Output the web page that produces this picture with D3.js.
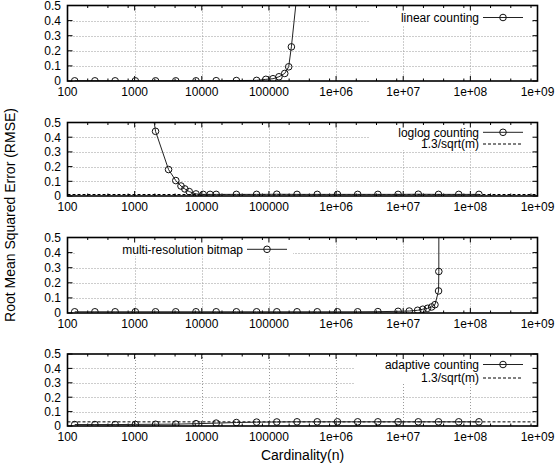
<!DOCTYPE html>
<html><head><meta charset="utf-8">
<script src="https://cdn.jsdelivr.net/npm/d3@7"></script>
<style>body{margin:0;background:#fff} svg{display:block} text{font-family:"Liberation Sans",Arial,Helvetica,sans-serif}</style>
</head><body><svg id="c" width="556" height="470"></svg>
<script>
// ---- data ----
const xTickValues = [100, 1e3, 1e4, 1e5, 1e6, 1e7, 1e8, 1e9];
const xTickLabels = ["100", "1000", "10000", "100000", "1e+06", "1e+07", "1e+08", "1e+09"];
const xMinorFactors = [2, 4, 8];
const yTickValues = [0, 0.1, 0.2, 0.3, 0.4, 0.5];
const yTickLabels = ["0", "0.1", "0.2", "0.3", "0.4", "0.5"];

const linearX = [128, 256, 512, 1024, 2048, 4096, 8192, 16384, 32768, 65536, 90000, 115000, 141000, 172000, 197000, 216000, 262144];
const linearY = [0.001, 0.001, 0.001, 0.001, 0.001, 0.001, 0.001, 0.002, 0.003, 0.004, 0.011, 0.015, 0.028, 0.05, 0.094, 0.226, 0.58];

const loglogX = [1024, 2048, 3200, 4100, 4900, 5600, 6500, 8200, 10500, 13300, 16384, 32768, 65536, 131072, 262144, 524288, 1048576, 2097152, 4194304, 8388608, 16777216, 33554432, 67108864, 134217728];
const loglogY = [1.35, 0.44, 0.18, 0.105, 0.068, 0.048, 0.03, 0.014, 0.011, 0.011, 0.011, 0.011, 0.011, 0.012, 0.011, 0.011, 0.011, 0.011, 0.011, 0.011, 0.012, 0.011, 0.011, 0.011];
const loglogBound = 0.0102;

const mrbX = [128, 256, 512, 1024, 2048, 4096, 8192, 16384, 32768, 65536, 131072, 262144, 524288, 1048576, 2097152, 4194304, 8388608, 12300000, 16400000, 19600000, 23000000, 26500000, 29700000, 33600000, 33900000, 34200000];
const mrbY = [0.008, 0.008, 0.008, 0.008, 0.008, 0.008, 0.008, 0.008, 0.008, 0.008, 0.008, 0.008, 0.008, 0.008, 0.008, 0.009, 0.011, 0.013, 0.018, 0.025, 0.031, 0.04, 0.055, 0.146, 0.275, 2.0];

const adaptiveX = [128, 256, 512, 1024, 2048, 4096, 8192, 16384, 32768, 65536, 131072, 262144, 524288, 1048576, 2097152, 4194304, 8388608, 16777216, 33554432, 67108864, 134217728];
const adaptiveY = [0.01, 0.01, 0.01, 0.011, 0.012, 0.013, 0.016, 0.02, 0.024, 0.027, 0.028, 0.029, 0.029, 0.029, 0.029, 0.029, 0.029, 0.029, 0.029, 0.029, 0.029];
const adaptiveBound = 0.0287;

const seriesNames = ["linear counting", "loglog counting", "multi-resolution bitmap", "adaptive counting"];
const boundName = "1.3/sqrt(m)";
const xTitle = "Cardinality(n)";
const yTitle = "Root Mean Squared Error (RMSE)";

// ---- layout ----
const L = 67.5, R = 537.5;
const panels = [
  {top: 5.5, bottom: 81, xs: linearX, ys: linearY, name: seriesNames[0], bound: null,
   key: {box: [369, 5.5, 531, 25], textX: 479, rows: [17.5]}},
  {top: 122.5, bottom: 196, xs: loglogX, ys: loglogY, name: seriesNames[1], bound: loglogBound,
   key: {box: [370, 122.5, 533, 150], textX: 479, rows: [132.3, 144]}},
  {top: 237.5, bottom: 313, xs: mrbX, ys: mrbY, name: seriesNames[2], bound: null,
   key: {box: [76, 237.5, 293, 256], textX: 243, rows: [249.3]}},
  {top: 354, bottom: 426, xs: adaptiveX, ys: adaptiveY, name: seriesNames[3], bound: adaptiveBound,
   key: {box: [355, 354, 533, 384], textX: 479, rows: [364.5, 378]}}
];

const svg = d3.select("#c");
const x = d3.scaleLog().domain([100, 1e9]).range([L, R]);

panels.forEach((p, i) => {
  const y = d3.scaleLinear().domain([0, 0.5]).range([p.bottom, p.top]);
  const g = svg.append("g");
  const clipId = "clip" + i;
  svg.append("clipPath").attr("id", clipId).append("rect")
    .attr("x", L).attr("y", p.top).attr("width", R - L).attr("height", p.bottom - p.top);

  // grid
  const grid = g.append("g").attr("stroke", "#9a9a9a").attr("stroke-width", 1).attr("stroke-dasharray", "1,2");
  xTickValues.slice(1, -1).forEach(v => {
    grid.append("line").attr("x1", Math.round(x(v)) + 0.5).attr("x2", Math.round(x(v)) + 0.5)
      .attr("y1", p.top).attr("y2", p.bottom);
  });
  yTickValues.slice(1, -1).forEach(v => {
    grid.append("line").attr("x1", L).attr("x2", R)
      .attr("y1", Math.round(y(v)) + 0.5).attr("y2", Math.round(y(v)) + 0.5);
  });

  // key background (opaque)
  const kb = p.key.box;
  g.append("rect").attr("x", kb[0]).attr("y", kb[1]).attr("width", kb[2] - kb[0]).attr("height", kb[3] - kb[1])
    .attr("fill", "#fff");

  // ticks
  const ticks = g.append("g").attr("stroke", "#000").attr("stroke-width", 1);
  xTickValues.forEach(v => {
    const xx = x(v);
    ticks.append("line").attr("x1", xx).attr("x2", xx).attr("y1", p.bottom).attr("y2", p.bottom - 5);
    ticks.append("line").attr("x1", xx).attr("x2", xx).attr("y1", p.top).attr("y2", p.top + 5);
  });
  xTickValues.slice(0, -1).forEach(v => {
    xMinorFactors.forEach(f => {
      const xx = x(v * f);
      ticks.append("line").attr("x1", xx).attr("x2", xx).attr("y1", p.bottom).attr("y2", p.bottom - 2.5);
      ticks.append("line").attr("x1", xx).attr("x2", xx).attr("y1", p.top).attr("y2", p.top + 2.5);
    });
  });
  yTickValues.forEach(v => {
    const yy = y(v);
    ticks.append("line").attr("x1", L).attr("x2", L + 5).attr("y1", yy).attr("y2", yy);
    ticks.append("line").attr("x1", R).attr("x2", R - 5).attr("y1", yy).attr("y2", yy);
  });

  // tick labels
  xTickValues.forEach((v, j) => {
    g.append("text").attr("x", x(v)).attr("y", p.bottom + 14.5).attr("text-anchor", "middle")
      .attr("font-size", 12).text(xTickLabels[j]);
  });
  yTickValues.forEach((v, j) => {
    g.append("text").attr("x", 61).attr("y", y(v) + 4.3).attr("text-anchor", "end")
      .attr("font-size", 12).text(yTickLabels[j]);
  });

  // data
  const data = p.xs.map((xv, j) => [xv, p.ys[j]]);
  const plot = g.append("g").attr("clip-path", `url(#${clipId})`);
  if (p.bound !== null) {
    plot.append("line").attr("x1", L).attr("x2", R).attr("y1", y(p.bound)).attr("y2", y(p.bound))
      .attr("stroke", "#000").attr("stroke-width", 1).attr("stroke-dasharray", "3,2");
  }
  plot.append("path").datum(data)
    .attr("d", d3.line().x(d => x(d[0])).y(d => y(d[1])))
    .attr("fill", "none").attr("stroke", "#222").attr("stroke-width", 1);
  plot.selectAll("circle").data(data).join("circle")
    .attr("cx", d => x(d[0])).attr("cy", d => y(d[1])).attr("r", 3.3)
    .attr("fill", "none").attr("stroke", "#111").attr("stroke-width", 1);

  // key
  const k = p.key;
  g.append("text").attr("x", k.textX).attr("y", k.rows[0] + 4.2).attr("text-anchor", "end")
    .attr("font-size", 12).text(p.name);
  const sx1 = k.textX + 4, sx2 = k.textX + 44;
  g.append("line").attr("x1", sx1).attr("x2", sx2).attr("y1", k.rows[0]).attr("y2", k.rows[0])
    .attr("stroke", "#222").attr("stroke-width", 1);
  g.append("circle").attr("cx", (sx1 + sx2) / 2).attr("cy", k.rows[0]).attr("r", 3.3)
    .attr("fill", "none").attr("stroke", "#111").attr("stroke-width", 1);
  if (p.bound !== null) {
    g.append("text").attr("x", k.textX).attr("y", k.rows[1] + 4.2).attr("text-anchor", "end")
      .attr("font-size", 12).text(boundName);
    g.append("line").attr("x1", sx1).attr("x2", sx2).attr("y1", k.rows[1]).attr("y2", k.rows[1])
      .attr("stroke", "#000").attr("stroke-width", 1).attr("stroke-dasharray", "3,2");
  }

  // border
  g.append("rect").attr("x", L).attr("y", p.top).attr("width", R - L).attr("height", p.bottom - p.top)
    .attr("fill", "none").attr("stroke", "#000").attr("stroke-width", 1.6);
});

// axis titles
svg.append("text").attr("x", (L + R) / 2).attr("y", 460).attr("text-anchor", "middle")
  .attr("font-size", 14).text(xTitle);
svg.append("text").attr("transform", "translate(15,215) rotate(-90)").attr("text-anchor", "middle")
  .attr("font-size", 14).text(yTitle);
</script></body></html>
